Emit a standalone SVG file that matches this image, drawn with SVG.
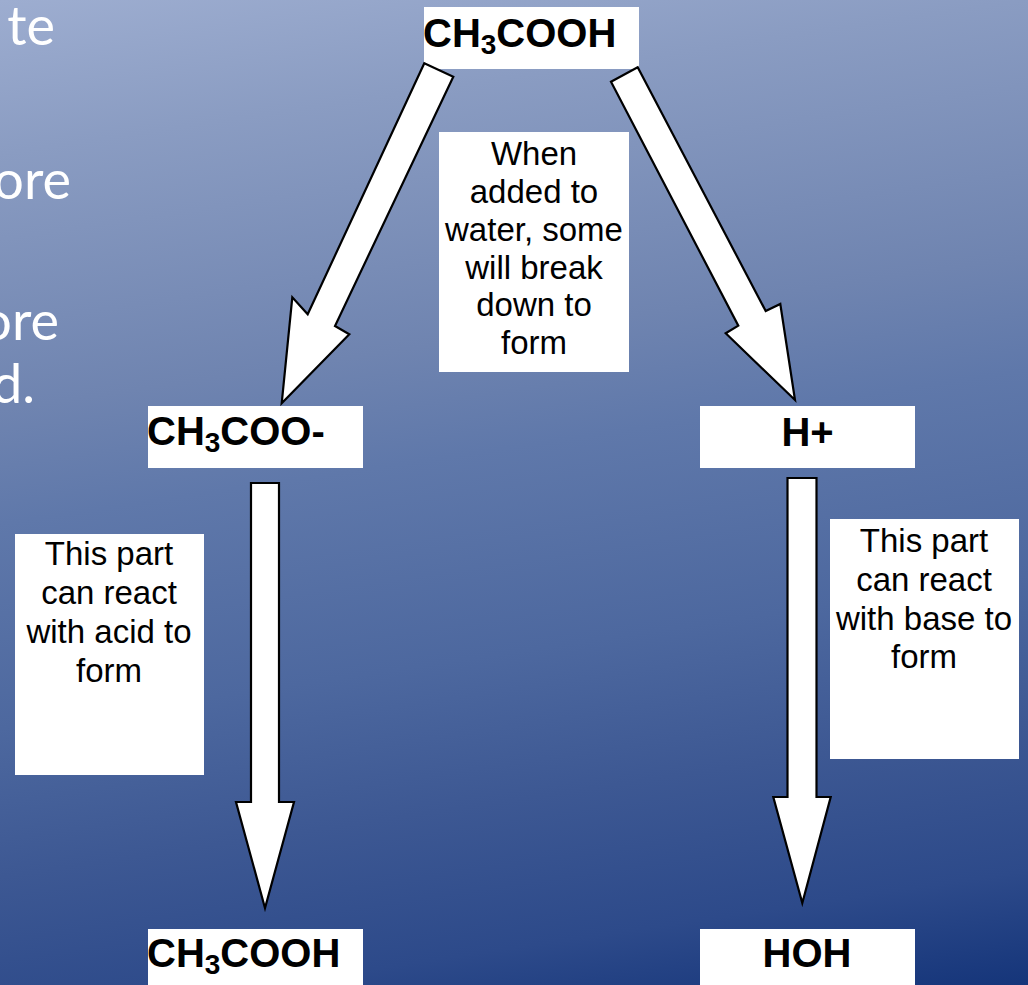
<svg xmlns="http://www.w3.org/2000/svg" width="1028" height="985" viewBox="0 0 1028 985">
<defs>
<linearGradient id="bg" gradientUnits="userSpaceOnUse" x1="0" y1="0" x2="167" y2="1114">
<stop offset="0" stop-color="#9dadd0"/>
<stop offset="0.135" stop-color="#8a9cc2"/>
<stop offset="0.36" stop-color="#6f84b0"/>
<stop offset="0.46" stop-color="#5f78aa"/>
<stop offset="0.64" stop-color="#4d689f"/>
<stop offset="0.77" stop-color="#3d5893"/>
<stop offset="0.9" stop-color="#2d4a8a"/>
<stop offset="1" stop-color="#15357a"/>
</linearGradient>
<style>
.box{fill:#ffffff;stroke:none}
.arrow{fill:#ffffff;stroke:#000000;stroke-width:2.2;stroke-linejoin:miter}
.lbl{font-family:"Liberation Sans",Arial,sans-serif;font-weight:bold;font-size:40px;fill:#000000}
.sub{font-size:28px}
.note{font-family:"Liberation Sans",Arial,sans-serif;font-size:33px;fill:#000000;text-anchor:middle}
.bgtxt{font-family:Lato,"Open Sans",sans-serif;font-size:54px;fill:#ffffff;text-anchor:end}
</style>
</defs>
<rect x="0" y="0" width="1028" height="985" fill="url(#bg)"/>
<g id="slide-text">
<text class="bgtxt" x="55" y="45">te</text>
<text class="bgtxt" x="71" y="199">ore</text>
<text class="bgtxt" x="59" y="340">ore</text>
<text class="bgtxt" x="35" y="403">d.</text>
</g>
<g id="node-top">
<rect class="box" x="424" y="7" width="215" height="62"/>
<text class="lbl" x="423" y="47">CH<tspan class="sub" dy="7">3</tspan><tspan dy="-7">COOH</tspan></text>
</g>
<g id="node-acetate">
<rect class="box" x="148" y="406" width="215" height="62"/>
<text class="lbl" x="147" y="445">CH<tspan class="sub" dy="7">3</tspan><tspan dy="-7">COO-</tspan></text>
</g>
<g id="node-hplus">
<rect class="box" x="700" y="406" width="215" height="62"/>
<text class="lbl" x="807.5" y="446" text-anchor="middle">H+</text>
</g>
<g id="node-bottom-acid">
<rect class="box" x="148" y="929" width="215" height="60"/>
<text class="lbl" x="147" y="967">CH<tspan class="sub" dy="7">3</tspan><tspan dy="-7">COOH</tspan></text>
</g>
<g id="node-hoh">
<rect class="box" x="700" y="929" width="215" height="60"/>
<text class="lbl" x="807" y="967" text-anchor="middle">HOH</text>
</g>
<g id="note-middle">
<rect class="box" x="439" y="132" width="190" height="240"/>
<text class="note" x="534" y="165">When</text>
<text class="note" x="534" y="203">added to</text>
<text class="note" x="534" y="241">water, some</text>
<text class="note" x="534" y="279">will break</text>
<text class="note" x="534" y="316">down to</text>
<text class="note" x="534" y="354">form</text>
</g>
<g id="note-left">
<rect class="box" x="15" y="534" width="189" height="241"/>
<text class="note" x="109" y="565">This part</text>
<text class="note" x="109" y="604">can react</text>
<text class="note" x="109" y="643">with acid to</text>
<text class="note" x="109" y="682">form</text>
</g>
<g id="note-right">
<rect class="box" x="830" y="519" width="189" height="240"/>
<text class="note" x="924" y="552">This part</text>
<text class="note" x="924" y="591">can react</text>
<text class="note" x="924" y="630">with base to</text>
<text class="note" x="924" y="668">form</text>
</g>
<g id="connectors">
<polygon class="arrow" points="424.3,63.3 453.3,76.7 335,326 349.3,334.3 281.7,403.3 292.3,297.3 307.7,314.3"/>
<polygon class="arrow" points="637.7,67.3 611,81.7 738.3,325.7 725.7,333.3 795,400 780.3,304 765.7,311"/>
<polygon class="arrow" points="251,483 279,483 279,802 294,802 265,908 236,802 251,802"/>
<polygon class="arrow" points="787.5,478 816.5,478 816.5,797 830.7,797 802.3,903 773.3,797 787.5,797"/>
</g>
</svg>
